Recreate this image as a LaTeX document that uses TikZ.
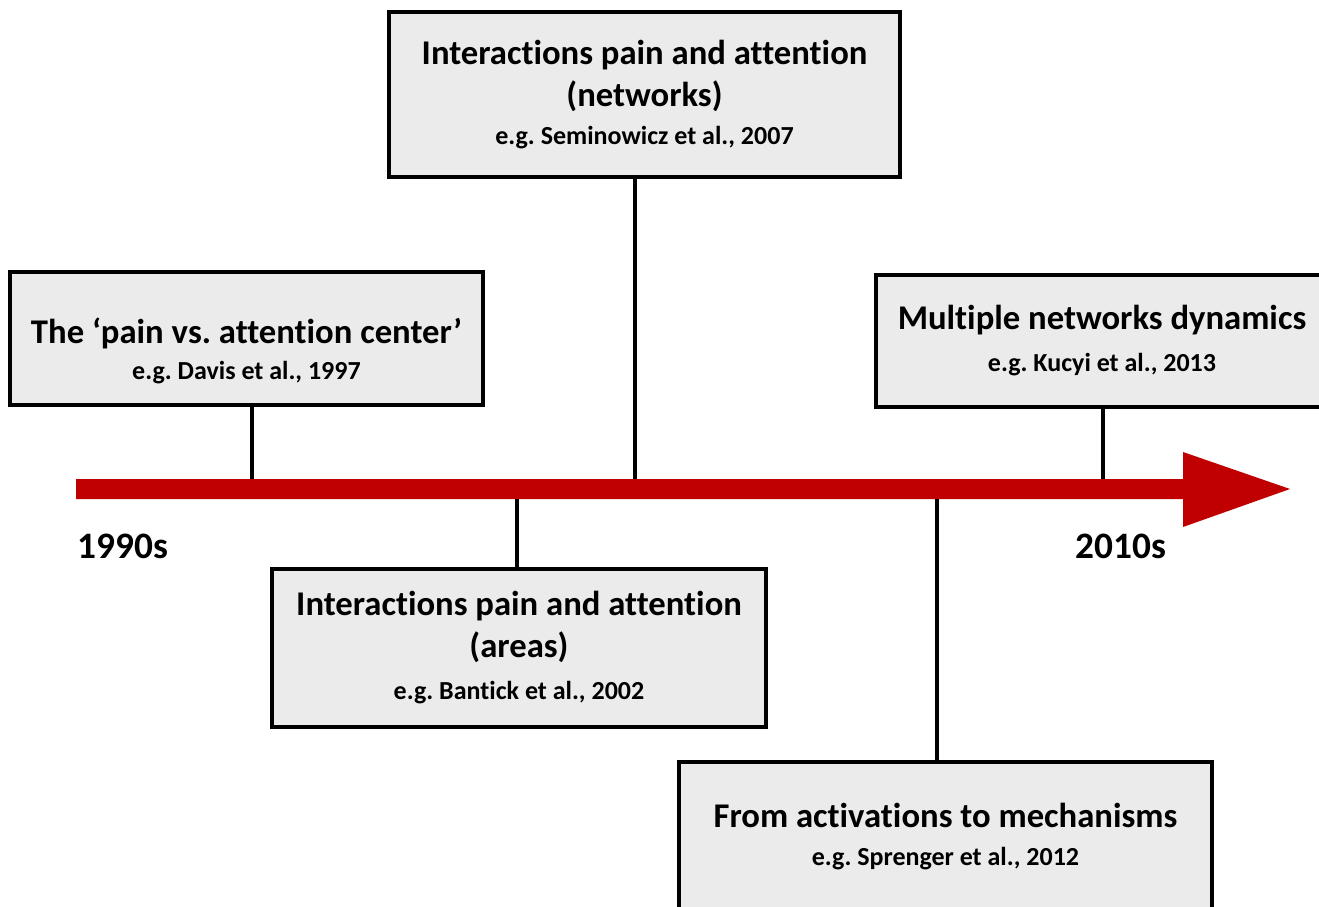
\documentclass[tikz,border=0pt]{standalone}
\usepackage{fontspec}
\setmainfont{Carlito}[Ligatures=NoCommon]
\usetikzlibrary{positioning}
\frenchspacing

\definecolor{timered}{RGB}{192,0,0}
\definecolor{boxgray}{RGB}{235,235,235}
\newcommand{\evref}[1]{{\fontsize{19.5}{24}\selectfont #1}}

\begin{document}
\begin{tikzpicture}[x=0.75pt, y=-0.75pt,
    eventbox/.style={draw=black, line width=3pt, fill=boxgray, align=center, inner sep=0pt,
        font=\fontsize{26}{31.5}\selectfont\bfseries},
    stem/.style={draw=black, line width=2.3pt},
    yearlabel/.style={font=\fontsize{28}{30}\selectfont\bfseries, inner sep=0pt}]
\useasboundingbox (0,0) rectangle (1319,906);

%% ---- Asse temporale ----
\fill[timered] (76,479) -- (1183,479) -- (1183,452) -- (1290,489)
    -- (1183,527) -- (1183,499) -- (76,499) -- cycle;
\coordinate (up1) at (252,479);
\coordinate (up2) at (635,479);
\coordinate (up4) at (1103,479);
\coordinate (down3) at (517,499);
\coordinate (down5) at (937,499);

\node[yearlabel] (start) at (123,546) {1990s};
\node[yearlabel] (stop)  at (1121,546) {2010s};

%% ---- Riquadri sopra l'asse ----
\node[eventbox, minimum width=354.75pt, minimum height=99.75pt] (davis) at (246.5,338.5) {};
\node[eventbox, draw=none, fill=none] (davistext) at ([yshift=-9pt]davis.center)
    {The ‘pain vs. attention center’\\[-4.5pt] \evref{e.g. Davis et al., 1997}};
\node[eventbox, minimum width=383.25pt, minimum height=123.75pt] (seminowicz) at (644.5,94.5)
    {Interactions pain and attention\\ (networks)\\[-3pt] \evref{e.g. Seminowicz et al., 2007}};
\node[eventbox, minimum width=339pt, minimum height=99pt] (kucyi) at (1102,341)
    {Multiple networks dynamics\\ \evref{e.g. Kucyi et al., 2013}};

%% ---- Riquadri sotto l'asse ----
\node[eventbox, minimum width=370.5pt, minimum height=118.5pt] (bantick) at (519,648)
    {Interactions pain and attention\\ (areas)\\ \evref{e.g. Bantick et al., 2002}};
\node[eventbox, minimum width=399.75pt, minimum height=112.5pt] (sprenger) at (945.5,837)
    {From activations to mechanisms\\[-3pt] \evref{e.g. Sprenger et al., 2012}};

%% ---- Collegamenti ----
\draw[stem] (davis.south -| up1) -- (up1);
\draw[stem] (seminowicz.south -| up2) -- (up2);
\draw[stem] (kucyi.south -| up4) -- (up4);
\draw[stem] (bantick.north -| down3) -- (down3);
\draw[stem] (sprenger.north -| down5) -- (down5);

\end{tikzpicture}
\end{document}
